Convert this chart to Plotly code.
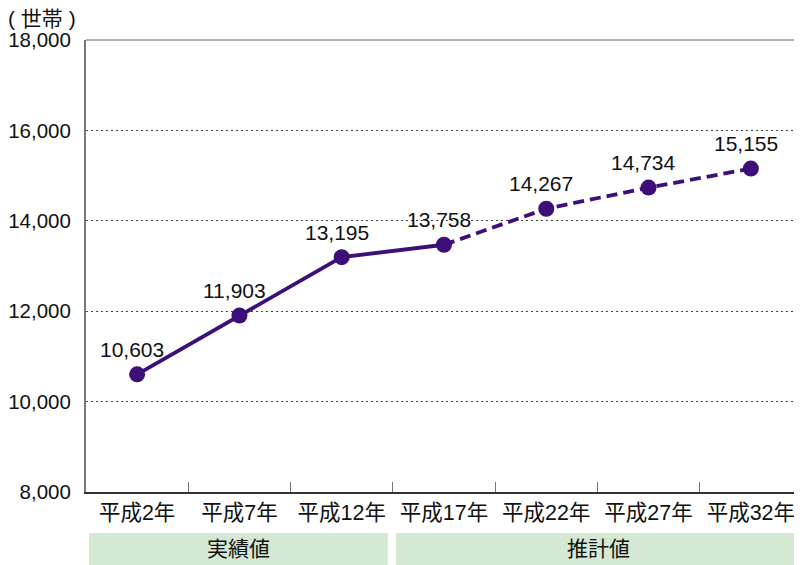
import plotly.graph_objects as go

categories = ["平成2年", "平成7年", "平成12年", "平成17年", "平成22年", "平成27年", "平成32年"]
values = [10603, 11903, 13195, 13470, 14267, 14734, 15155]
labels = ["10,603", "11,903", "13,195", "13,758", "14,267", "14,734", "15,155"]
y_ticks = [8000, 10000, 12000, 14000, 16000, 18000]
y_tick_labels = ["8,000", "10,000", "12,000", "14,000", "16,000", "18,000"]
groups = [("実績値", 0, 2), ("推計値", 3, 6)]

FONT = "Liberation Sans, Arial, Noto Sans CJK JP"
PURPLE = "#3d0f78"
GREEN = "#d4e8d4"
FS = 21
TFS = 21.5

xs = list(range(len(categories)))
split = 3

fig = go.Figure()
fig.add_trace(go.Scatter(x=xs[:split + 1], y=values[:split + 1], mode="lines",
                         line=dict(color=PURPLE, width=3.8), hoverinfo="skip", showlegend=False))
fig.add_trace(go.Scatter(x=xs[split:], y=values[split:], mode="lines",
                         line=dict(color=PURPLE, width=3.8, dash="11px,6px"), hoverinfo="skip", showlegend=False))
fig.add_trace(go.Scatter(x=xs, y=values, mode="markers",
                         marker=dict(color=PURPLE, size=16), showlegend=False))

for i, (v, t) in enumerate(zip(values, labels)):
    fig.add_annotation(x=i, y=v, text=t, showarrow=False, xshift=-5, yshift=25,
                       font=dict(family=FONT, size=FS, color="#111"))

for name, a, b in groups:
    x0 = a - 0.47
    x1 = b + (0.45 if b < len(categories) - 1 else 0.5)
    fig.add_shape(type="rect", xref="x", yref="paper", x0=x0, x1=x1, y0=-0.1615, y1=-0.0907,
                  fillcolor=GREEN, line=dict(width=0), layer="below")
    fig.add_annotation(x=(x0 + x1) / 2, xref="x", y=-0.126, yref="paper", yanchor="middle",
                       text=name, showarrow=False,
                       font=dict(family=FONT, size=FS, color="#111"))

fig.add_shape(type="line", xref="paper", yref="paper", x0=0, x1=1, y0=1, y1=1,
              line=dict(color="#666", width=1))

fig.add_annotation(x=0, xref="paper", xanchor="left", xshift=-80, y=1, yref="paper", yanchor="bottom",
                   yshift=8, text="( 世帯 )", showarrow=False,
                   font=dict(family=FONT, size=FS, color="#111"))

# page body has an 8px margin, so the figure is sized to fill the rest of the window
fig.update_layout(
    width=794, height=557,
    margin=dict(l=78, r=0, t=32, b=73, autoexpand=False),
    plot_bgcolor="white", paper_bgcolor="white",
    font=dict(family=FONT, size=FS, color="#111"),
    xaxis=dict(range=[-0.5, 6.5], tickmode="array", tickvals=xs, ticktext=categories,
               showline=True, linecolor="#333", linewidth=1.5, showgrid=False, zeroline=False,
               ticks="", automargin=False,
               minor=dict(tickmode="array", tickvals=[i + 0.5 for i in xs[:-1]], ticks="inside",
                          ticklen=10, tickcolor="#777", showgrid=False),
               tickfont=dict(family=FONT, size=TFS), ticklabelstandoff=0),
    yaxis=dict(range=[8000, 18000], tickmode="array", tickvals=y_ticks, ticktext=y_tick_labels,
               showline=True, linecolor="#777", linewidth=2, showgrid=True, gridcolor="#444",
               griddash="2px,3px", gridwidth=1, ticks="", zeroline=False, automargin=False,
               ticklabelstandoff=9, tickfont=dict(family=FONT, size=20.5)),
)

fig.write_html("out.html")
